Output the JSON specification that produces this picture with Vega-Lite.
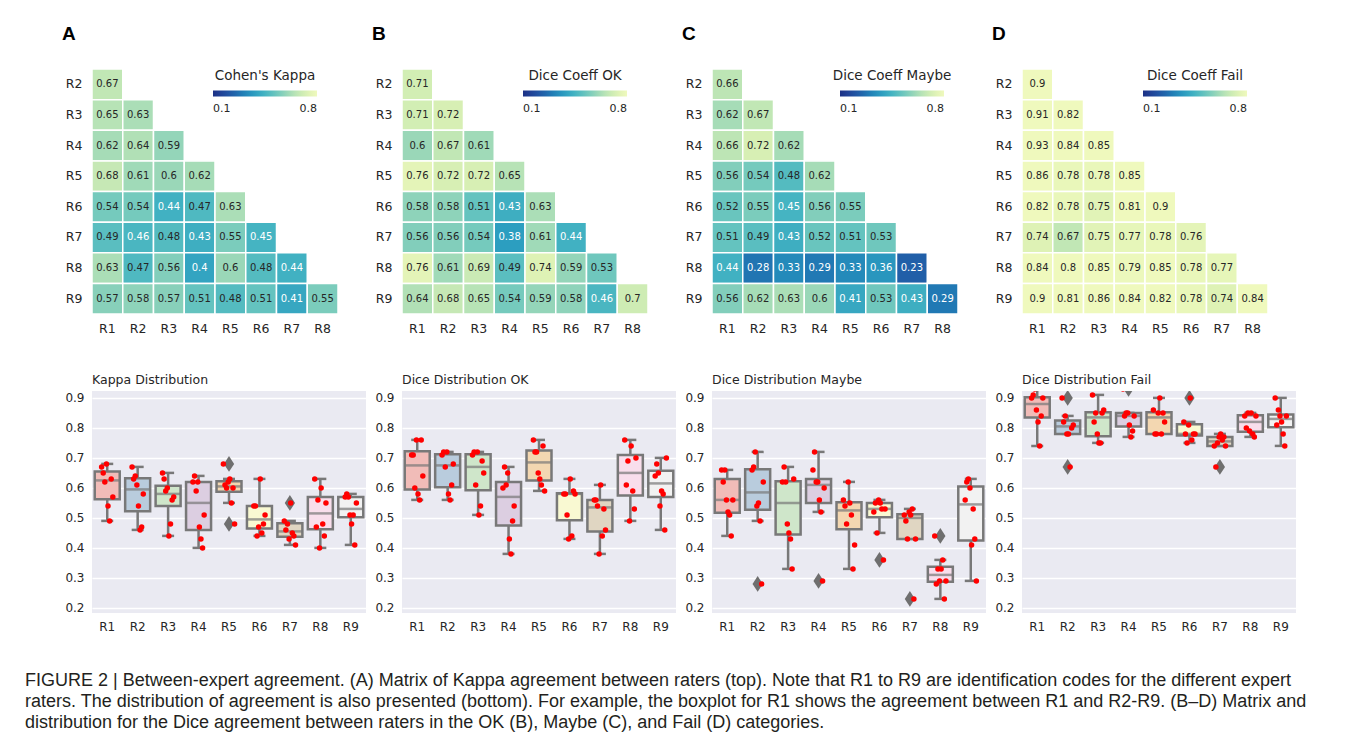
{
  "$schema": "https://vega.github.io/schema/vega-lite/v6.json",
  "background": "white",
  "padding": {"left": 25, "top": 25, "right": 5, "bottom": 5},
  "datasets": {
    "A": [
      {"r":"R2","c":"R1","v":0.67},
      {"r":"R3","c":"R1","v":0.65},{"r":"R3","c":"R2","v":0.63},
      {"r":"R4","c":"R1","v":0.62},{"r":"R4","c":"R2","v":0.64},{"r":"R4","c":"R3","v":0.59},
      {"r":"R5","c":"R1","v":0.68},{"r":"R5","c":"R2","v":0.61},{"r":"R5","c":"R3","v":0.6},{"r":"R5","c":"R4","v":0.62},
      {"r":"R6","c":"R1","v":0.54},{"r":"R6","c":"R2","v":0.54},{"r":"R6","c":"R3","v":0.44},{"r":"R6","c":"R4","v":0.47},{"r":"R6","c":"R5","v":0.63},
      {"r":"R7","c":"R1","v":0.49},{"r":"R7","c":"R2","v":0.46},{"r":"R7","c":"R3","v":0.48},{"r":"R7","c":"R4","v":0.43},{"r":"R7","c":"R5","v":0.55},{"r":"R7","c":"R6","v":0.45},
      {"r":"R8","c":"R1","v":0.63},{"r":"R8","c":"R2","v":0.47},{"r":"R8","c":"R3","v":0.56},{"r":"R8","c":"R4","v":0.4},{"r":"R8","c":"R5","v":0.6},{"r":"R8","c":"R6","v":0.48},{"r":"R8","c":"R7","v":0.44},
      {"r":"R9","c":"R1","v":0.57},{"r":"R9","c":"R2","v":0.58},{"r":"R9","c":"R3","v":0.57},{"r":"R9","c":"R4","v":0.51},{"r":"R9","c":"R5","v":0.48},{"r":"R9","c":"R6","v":0.51},{"r":"R9","c":"R7","v":0.41},{"r":"R9","c":"R8","v":0.55}
    ],
    "B": [
      {"r":"R2","c":"R1","v":0.71},
      {"r":"R3","c":"R1","v":0.71},{"r":"R3","c":"R2","v":0.72},
      {"r":"R4","c":"R1","v":0.6},{"r":"R4","c":"R2","v":0.67},{"r":"R4","c":"R3","v":0.61},
      {"r":"R5","c":"R1","v":0.76},{"r":"R5","c":"R2","v":0.72},{"r":"R5","c":"R3","v":0.72},{"r":"R5","c":"R4","v":0.65},
      {"r":"R6","c":"R1","v":0.58},{"r":"R6","c":"R2","v":0.58},{"r":"R6","c":"R3","v":0.51},{"r":"R6","c":"R4","v":0.43},{"r":"R6","c":"R5","v":0.63},
      {"r":"R7","c":"R1","v":0.56},{"r":"R7","c":"R2","v":0.56},{"r":"R7","c":"R3","v":0.54},{"r":"R7","c":"R4","v":0.38},{"r":"R7","c":"R5","v":0.61},{"r":"R7","c":"R6","v":0.44},
      {"r":"R8","c":"R1","v":0.76},{"r":"R8","c":"R2","v":0.61},{"r":"R8","c":"R3","v":0.69},{"r":"R8","c":"R4","v":0.49},{"r":"R8","c":"R5","v":0.74},{"r":"R8","c":"R6","v":0.59},{"r":"R8","c":"R7","v":0.53},
      {"r":"R9","c":"R1","v":0.64},{"r":"R9","c":"R2","v":0.68},{"r":"R9","c":"R3","v":0.65},{"r":"R9","c":"R4","v":0.54},{"r":"R9","c":"R5","v":0.59},{"r":"R9","c":"R6","v":0.58},{"r":"R9","c":"R7","v":0.46},{"r":"R9","c":"R8","v":0.7}
    ],
    "C": [
      {"r":"R2","c":"R1","v":0.66},
      {"r":"R3","c":"R1","v":0.62},{"r":"R3","c":"R2","v":0.67},
      {"r":"R4","c":"R1","v":0.66},{"r":"R4","c":"R2","v":0.72},{"r":"R4","c":"R3","v":0.62},
      {"r":"R5","c":"R1","v":0.56},{"r":"R5","c":"R2","v":0.54},{"r":"R5","c":"R3","v":0.48},{"r":"R5","c":"R4","v":0.62},
      {"r":"R6","c":"R1","v":0.52},{"r":"R6","c":"R2","v":0.55},{"r":"R6","c":"R3","v":0.45},{"r":"R6","c":"R4","v":0.56},{"r":"R6","c":"R5","v":0.55},
      {"r":"R7","c":"R1","v":0.51},{"r":"R7","c":"R2","v":0.49},{"r":"R7","c":"R3","v":0.43},{"r":"R7","c":"R4","v":0.52},{"r":"R7","c":"R5","v":0.51},{"r":"R7","c":"R6","v":0.53},
      {"r":"R8","c":"R1","v":0.44},{"r":"R8","c":"R2","v":0.28},{"r":"R8","c":"R3","v":0.33},{"r":"R8","c":"R4","v":0.29},{"r":"R8","c":"R5","v":0.33},{"r":"R8","c":"R6","v":0.36},{"r":"R8","c":"R7","v":0.23},
      {"r":"R9","c":"R1","v":0.56},{"r":"R9","c":"R2","v":0.62},{"r":"R9","c":"R3","v":0.63},{"r":"R9","c":"R4","v":0.6},{"r":"R9","c":"R5","v":0.41},{"r":"R9","c":"R6","v":0.53},{"r":"R9","c":"R7","v":0.43},{"r":"R9","c":"R8","v":0.29}
    ],
    "D": [
      {"r":"R2","c":"R1","v":0.9},
      {"r":"R3","c":"R1","v":0.91},{"r":"R3","c":"R2","v":0.82},
      {"r":"R4","c":"R1","v":0.93},{"r":"R4","c":"R2","v":0.84},{"r":"R4","c":"R3","v":0.85},
      {"r":"R5","c":"R1","v":0.86},{"r":"R5","c":"R2","v":0.78},{"r":"R5","c":"R3","v":0.78},{"r":"R5","c":"R4","v":0.85},
      {"r":"R6","c":"R1","v":0.82},{"r":"R6","c":"R2","v":0.78},{"r":"R6","c":"R3","v":0.75},{"r":"R6","c":"R4","v":0.81},{"r":"R6","c":"R5","v":0.9},
      {"r":"R7","c":"R1","v":0.74},{"r":"R7","c":"R2","v":0.67},{"r":"R7","c":"R3","v":0.75},{"r":"R7","c":"R4","v":0.77},{"r":"R7","c":"R5","v":0.78},{"r":"R7","c":"R6","v":0.76},
      {"r":"R8","c":"R1","v":0.84},{"r":"R8","c":"R2","v":0.8},{"r":"R8","c":"R3","v":0.85},{"r":"R8","c":"R4","v":0.79},{"r":"R8","c":"R5","v":0.85},{"r":"R8","c":"R6","v":0.78},{"r":"R8","c":"R7","v":0.77},
      {"r":"R9","c":"R1","v":0.9},{"r":"R9","c":"R2","v":0.81},{"r":"R9","c":"R3","v":0.86},{"r":"R9","c":"R4","v":0.84},{"r":"R9","c":"R5","v":0.82},{"r":"R9","c":"R6","v":0.78},{"r":"R9","c":"R7","v":0.74},{"r":"R9","c":"R8","v":0.84}
    ]
  },
  "title": {
    "text": [
      "FIGURE 2 | Between-expert agreement. (A) Matrix of Kappa agreement between raters (top). Note that R1 to R9 are identification codes for the different expert",
      "raters. The distribution of agreement is also presented (bottom). For example, the boxplot for R1 shows the agreement between R1 and R2-R9. (B–D) Matrix and",
      "distribution for the Dice agreement between raters in the OK (B), Maybe (C), and Fail (D) categories."
    ],
    "orient": "bottom", "anchor": "start", "frame": "bounds",
    "font": "Liberation Sans", "fontSize": 18, "fontWeight": "normal", "color": "#231f20",
    "lineHeight": 21, "offset": 40, "dx": -37
  },
  "spacing": 6,
  "resolve": {"scale": {"color": "independent", "x": "independent", "y": "independent", "xOffset": "independent"}, "legend": {"color": "independent"}},
  "hconcat": [
    {
      "spacing": 38,
      "resolve": {"scale": {"color": "independent", "x": "independent", "y": "independent", "xOffset": "independent"}, "legend": {"color": "independent"}},
      "vconcat": [
        {
          "width": 246, "height": 245,
          "data": {"name": "A"},
          "title": {"text": "A", "anchor": "start", "frame": "bounds", "fontSize": 19, "fontWeight": "bold", "font": "Liberation Sans", "offset": 24, "color": "black"},
          "encoding": {
            "x": {"field": "c", "type": "nominal", "title": null, "axis": {"labelAngle": 0, "labelPadding": 8, "labelFontSize": 12.5}},
            "y": {"field": "r", "type": "nominal", "title": null, "axis": {"labelPadding": 10, "labelFontSize": 12.5, "minExtent": 30, "maxExtent": 30}}
          },
          "layer": [
            {"mark": {"type": "rect", "stroke": "white", "strokeWidth": 1.5},
             "encoding": {"color": {"field": "v", "type": "quantitative",
               "scale": {"scheme": "yellowgreenblue", "reverse": true, "domain": [0.1, 0.8], "clamp": true},
               "legend": {"orient": "none", "legendX": 121, "legendY": 0, "direction": "horizontal", "gradientLength": 104, "gradientThickness": 6, "gradientStrokeWidth": 0,
                 "title": "Cohen's Kappa", "titleFontSize": 13.5, "titleFontWeight": "normal", "titleFont": "DejaVu Sans", "titleColor": "#262626", "titleAnchor": "middle", "titlePadding": 8,
                 "values": [0.1, 0.8], "labelFontSize": 11, "labelColor": "#262626", "labelFont": "DejaVu Sans", "labelOffset": 6, "labelAlign": "center"}}}},
            {"mark": {"type": "text", "fontSize": 10, "font": "DejaVu Sans"},
             "encoding": {"text": {"field": "v", "type": "quantitative"},
               "color": {"condition": {"test": "datum.v < 0.465", "value": "white"}, "value": "#262626"}}}
          ]
        },
        {
          "width": 274, "height": 222,
          "data": {"name": "A"},
          "transform": [{"fold": ["r", "c"], "as": ["role", "rater"]}, {"window": [{"op": "row_number", "as": "k"}], "groupby": ["rater"]}],
          "title": {"text": "Kappa Distribution", "anchor": "start", "frame": "group", "fontSize": 12.5, "fontWeight": "normal", "font": "DejaVu Sans", "color": "#262626", "offset": 5},
          "view": {"fill": "#EAEAF2", "stroke": null},
          "encoding": {
            "x": {"field": "rater", "type": "nominal", "title": null, "scale": {"paddingInner": 0, "paddingOuter": 0}, "axis": {"labelAngle": 0, "labelPadding": 8, "labelFontSize": 12}},
            "y": {"field": "v", "type": "quantitative", "title": null, "scale": {"domain": [0.183, 0.923], "nice": false, "zero": false},
              "axis": {"values": [0.2, 0.3, 0.4, 0.5, 0.6, 0.7, 0.8, 0.9], "format": ".1f", "grid": true, "gridColor": "white", "gridWidth": 1.5, "labelPadding": 8, "minExtent": 30, "maxExtent": 30, "labelFontSize": 12}}
          },
          "layer": [
            {"mark": {"type": "boxplot", "extent": 1.5, "size": 25, "clip": true,
               "box": {"stroke": "#787878", "strokeWidth": 2.5, "clip": true},
               "median": {"color": "#787878", "thickness": 2.5, "clip": true},
               "rule": {"color": "#787878", "strokeWidth": 2.5, "clip": true},
               "ticks": {"color": "#787878", "size": 12, "thickness": 2.5, "clip": true},
               "outliers": false},
             "encoding": {"color": {"field": "rater", "type": "nominal", "legend": null,
               "scale": {"domain": ["R1","R2","R3","R4","R5","R6","R7","R8","R9"], "range": ["#f1bcb8","#b9ccdd","#cfe6ca","#dccee1","#f3d7b1","#f9f9d2","#e0d6c2","#f9deec","#f2f2f2"]}}}},
            {"mark": {"type": "boxplot", "extent": 1.5, "size": 25, "clip": true, "box": false, "median": false, "rule": false, "ticks": false,
               "outliers": {"shape": "M0,-1L0.65,0L0,1L-0.65,0Z", "filled": true, "color": "#6f6f6f", "size": 250, "opacity": 1, "clip": true}}},
            {"mark": {"type": "point", "filled": true, "color": "#ff0000", "size": 30, "opacity": 1, "clip": true},
             "encoding": {"xOffset": {"field": "k", "type": "quantitative", "scale": {"domain": [-5, 14]}}}}
          ]
        }
      ]
    },
    {
      "spacing": 38,
      "resolve": {"scale": {"color": "independent", "x": "independent", "y": "independent", "xOffset": "independent"}, "legend": {"color": "independent"}},
      "vconcat": [
        {
          "width": 246, "height": 245,
          "data": {"name": "B"},
          "title": {"text": "B", "anchor": "start", "frame": "bounds", "fontSize": 19, "fontWeight": "bold", "font": "Liberation Sans", "offset": 24, "color": "black"},
          "encoding": {
            "x": {"field": "c", "type": "nominal", "title": null, "axis": {"labelAngle": 0, "labelPadding": 8, "labelFontSize": 12.5}},
            "y": {"field": "r", "type": "nominal", "title": null, "axis": {"labelPadding": 10, "labelFontSize": 12.5, "minExtent": 30, "maxExtent": 30}}
          },
          "layer": [
            {"mark": {"type": "rect", "stroke": "white", "strokeWidth": 1.5},
             "encoding": {"color": {"field": "v", "type": "quantitative",
               "scale": {"scheme": "yellowgreenblue", "reverse": true, "domain": [0.1, 0.8], "clamp": true},
               "legend": {"orient": "none", "legendX": 121, "legendY": 0, "direction": "horizontal", "gradientLength": 104, "gradientThickness": 6, "gradientStrokeWidth": 0,
                 "title": "Dice Coeff OK", "titleFontSize": 13.5, "titleFontWeight": "normal", "titleFont": "DejaVu Sans", "titleColor": "#262626", "titleAnchor": "middle", "titlePadding": 8,
                 "values": [0.1, 0.8], "labelFontSize": 11, "labelColor": "#262626", "labelFont": "DejaVu Sans", "labelOffset": 6, "labelAlign": "center"}}}},
            {"mark": {"type": "text", "fontSize": 10, "font": "DejaVu Sans"},
             "encoding": {"text": {"field": "v", "type": "quantitative"},
               "color": {"condition": {"test": "datum.v < 0.465", "value": "white"}, "value": "#262626"}}}
          ]
        },
        {
          "width": 274, "height": 222,
          "data": {"name": "B"},
          "transform": [{"fold": ["r", "c"], "as": ["role", "rater"]}, {"window": [{"op": "row_number", "as": "k"}], "groupby": ["rater"]}],
          "title": {"text": "Dice Distribution OK", "anchor": "start", "frame": "group", "fontSize": 12.5, "fontWeight": "normal", "font": "DejaVu Sans", "color": "#262626", "offset": 5},
          "view": {"fill": "#EAEAF2", "stroke": null},
          "encoding": {
            "x": {"field": "rater", "type": "nominal", "title": null, "scale": {"paddingInner": 0, "paddingOuter": 0}, "axis": {"labelAngle": 0, "labelPadding": 8, "labelFontSize": 12}},
            "y": {"field": "v", "type": "quantitative", "title": null, "scale": {"domain": [0.183, 0.923], "nice": false, "zero": false},
              "axis": {"values": [0.2, 0.3, 0.4, 0.5, 0.6, 0.7, 0.8, 0.9], "format": ".1f", "grid": true, "gridColor": "white", "gridWidth": 1.5, "labelPadding": 8, "minExtent": 30, "maxExtent": 30, "labelFontSize": 12}}
          },
          "layer": [
            {"mark": {"type": "boxplot", "extent": 1.5, "size": 25, "clip": true,
               "box": {"stroke": "#787878", "strokeWidth": 2.5, "clip": true},
               "median": {"color": "#787878", "thickness": 2.5, "clip": true},
               "rule": {"color": "#787878", "strokeWidth": 2.5, "clip": true},
               "ticks": {"color": "#787878", "size": 12, "thickness": 2.5, "clip": true},
               "outliers": false},
             "encoding": {"color": {"field": "rater", "type": "nominal", "legend": null,
               "scale": {"domain": ["R1","R2","R3","R4","R5","R6","R7","R8","R9"], "range": ["#f1bcb8","#b9ccdd","#cfe6ca","#dccee1","#f3d7b1","#f9f9d2","#e0d6c2","#f9deec","#f2f2f2"]}}}},
            {"mark": {"type": "boxplot", "extent": 1.5, "size": 25, "clip": true, "box": false, "median": false, "rule": false, "ticks": false,
               "outliers": {"shape": "M0,-1L0.65,0L0,1L-0.65,0Z", "filled": true, "color": "#6f6f6f", "size": 250, "opacity": 1, "clip": true}}},
            {"mark": {"type": "point", "filled": true, "color": "#ff0000", "size": 30, "opacity": 1, "clip": true},
             "encoding": {"xOffset": {"field": "k", "type": "quantitative", "scale": {"domain": [-5, 14]}}}}
          ]
        }
      ]
    },
    {
      "spacing": 38,
      "resolve": {"scale": {"color": "independent", "x": "independent", "y": "independent", "xOffset": "independent"}, "legend": {"color": "independent"}},
      "vconcat": [
        {
          "width": 246, "height": 245,
          "data": {"name": "C"},
          "title": {"text": "C", "anchor": "start", "frame": "bounds", "fontSize": 19, "fontWeight": "bold", "font": "Liberation Sans", "offset": 24, "color": "black"},
          "encoding": {
            "x": {"field": "c", "type": "nominal", "title": null, "axis": {"labelAngle": 0, "labelPadding": 8, "labelFontSize": 12.5}},
            "y": {"field": "r", "type": "nominal", "title": null, "axis": {"labelPadding": 10, "labelFontSize": 12.5, "minExtent": 30, "maxExtent": 30}}
          },
          "layer": [
            {"mark": {"type": "rect", "stroke": "white", "strokeWidth": 1.5},
             "encoding": {"color": {"field": "v", "type": "quantitative",
               "scale": {"scheme": "yellowgreenblue", "reverse": true, "domain": [0.1, 0.8], "clamp": true},
               "legend": {"orient": "none", "legendX": 121, "legendY": 0, "direction": "horizontal", "gradientLength": 104, "gradientThickness": 6, "gradientStrokeWidth": 0,
                 "title": "Dice Coeff Maybe", "titleFontSize": 13.5, "titleFontWeight": "normal", "titleFont": "DejaVu Sans", "titleColor": "#262626", "titleAnchor": "middle", "titlePadding": 8,
                 "values": [0.1, 0.8], "labelFontSize": 11, "labelColor": "#262626", "labelFont": "DejaVu Sans", "labelOffset": 6, "labelAlign": "center"}}}},
            {"mark": {"type": "text", "fontSize": 10, "font": "DejaVu Sans"},
             "encoding": {"text": {"field": "v", "type": "quantitative"},
               "color": {"condition": {"test": "datum.v < 0.465", "value": "white"}, "value": "#262626"}}}
          ]
        },
        {
          "width": 274, "height": 222,
          "data": {"name": "C"},
          "transform": [{"fold": ["r", "c"], "as": ["role", "rater"]}, {"window": [{"op": "row_number", "as": "k"}], "groupby": ["rater"]}],
          "title": {"text": "Dice Distribution Maybe", "anchor": "start", "frame": "group", "fontSize": 12.5, "fontWeight": "normal", "font": "DejaVu Sans", "color": "#262626", "offset": 5},
          "view": {"fill": "#EAEAF2", "stroke": null},
          "encoding": {
            "x": {"field": "rater", "type": "nominal", "title": null, "scale": {"paddingInner": 0, "paddingOuter": 0}, "axis": {"labelAngle": 0, "labelPadding": 8, "labelFontSize": 12}},
            "y": {"field": "v", "type": "quantitative", "title": null, "scale": {"domain": [0.183, 0.923], "nice": false, "zero": false},
              "axis": {"values": [0.2, 0.3, 0.4, 0.5, 0.6, 0.7, 0.8, 0.9], "format": ".1f", "grid": true, "gridColor": "white", "gridWidth": 1.5, "labelPadding": 8, "minExtent": 30, "maxExtent": 30, "labelFontSize": 12}}
          },
          "layer": [
            {"mark": {"type": "boxplot", "extent": 1.5, "size": 25, "clip": true,
               "box": {"stroke": "#787878", "strokeWidth": 2.5, "clip": true},
               "median": {"color": "#787878", "thickness": 2.5, "clip": true},
               "rule": {"color": "#787878", "strokeWidth": 2.5, "clip": true},
               "ticks": {"color": "#787878", "size": 12, "thickness": 2.5, "clip": true},
               "outliers": false},
             "encoding": {"color": {"field": "rater", "type": "nominal", "legend": null,
               "scale": {"domain": ["R1","R2","R3","R4","R5","R6","R7","R8","R9"], "range": ["#f1bcb8","#b9ccdd","#cfe6ca","#dccee1","#f3d7b1","#f9f9d2","#e0d6c2","#f9deec","#f2f2f2"]}}}},
            {"mark": {"type": "boxplot", "extent": 1.5, "size": 25, "clip": true, "box": false, "median": false, "rule": false, "ticks": false,
               "outliers": {"shape": "M0,-1L0.65,0L0,1L-0.65,0Z", "filled": true, "color": "#6f6f6f", "size": 250, "opacity": 1, "clip": true}}},
            {"mark": {"type": "point", "filled": true, "color": "#ff0000", "size": 30, "opacity": 1, "clip": true},
             "encoding": {"xOffset": {"field": "k", "type": "quantitative", "scale": {"domain": [-5, 14]}}}}
          ]
        }
      ]
    },
    {
      "spacing": 38,
      "resolve": {"scale": {"color": "independent", "x": "independent", "y": "independent", "xOffset": "independent"}, "legend": {"color": "independent"}},
      "vconcat": [
        {
          "width": 246, "height": 245,
          "data": {"name": "D"},
          "title": {"text": "D", "anchor": "start", "frame": "bounds", "fontSize": 19, "fontWeight": "bold", "font": "Liberation Sans", "offset": 24, "color": "black"},
          "encoding": {
            "x": {"field": "c", "type": "nominal", "title": null, "axis": {"labelAngle": 0, "labelPadding": 8, "labelFontSize": 12.5}},
            "y": {"field": "r", "type": "nominal", "title": null, "axis": {"labelPadding": 10, "labelFontSize": 12.5, "minExtent": 30, "maxExtent": 30}}
          },
          "layer": [
            {"mark": {"type": "rect", "stroke": "white", "strokeWidth": 1.5},
             "encoding": {"color": {"field": "v", "type": "quantitative",
               "scale": {"scheme": "yellowgreenblue", "reverse": true, "domain": [0.1, 0.8], "clamp": true},
               "legend": {"orient": "none", "legendX": 121, "legendY": 0, "direction": "horizontal", "gradientLength": 104, "gradientThickness": 6, "gradientStrokeWidth": 0,
                 "title": "Dice Coeff Fail", "titleFontSize": 13.5, "titleFontWeight": "normal", "titleFont": "DejaVu Sans", "titleColor": "#262626", "titleAnchor": "middle", "titlePadding": 8,
                 "values": [0.1, 0.8], "labelFontSize": 11, "labelColor": "#262626", "labelFont": "DejaVu Sans", "labelOffset": 6, "labelAlign": "center"}}}},
            {"mark": {"type": "text", "fontSize": 10, "font": "DejaVu Sans"},
             "encoding": {"text": {"field": "v", "type": "quantitative"},
               "color": {"condition": {"test": "datum.v < 0.465", "value": "white"}, "value": "#262626"}}}
          ]
        },
        {
          "width": 274, "height": 222,
          "data": {"name": "D"},
          "transform": [{"fold": ["r", "c"], "as": ["role", "rater"]}, {"window": [{"op": "row_number", "as": "k"}], "groupby": ["rater"]}],
          "title": {"text": "Dice Distribution Fail", "anchor": "start", "frame": "group", "fontSize": 12.5, "fontWeight": "normal", "font": "DejaVu Sans", "color": "#262626", "offset": 5},
          "view": {"fill": "#EAEAF2", "stroke": null},
          "encoding": {
            "x": {"field": "rater", "type": "nominal", "title": null, "scale": {"paddingInner": 0, "paddingOuter": 0}, "axis": {"labelAngle": 0, "labelPadding": 8, "labelFontSize": 12}},
            "y": {"field": "v", "type": "quantitative", "title": null, "scale": {"domain": [0.183, 0.923], "nice": false, "zero": false},
              "axis": {"values": [0.2, 0.3, 0.4, 0.5, 0.6, 0.7, 0.8, 0.9], "format": ".1f", "grid": true, "gridColor": "white", "gridWidth": 1.5, "labelPadding": 8, "minExtent": 30, "maxExtent": 30, "labelFontSize": 12}}
          },
          "layer": [
            {"mark": {"type": "boxplot", "extent": 1.5, "size": 25, "clip": true,
               "box": {"stroke": "#787878", "strokeWidth": 2.5, "clip": true},
               "median": {"color": "#787878", "thickness": 2.5, "clip": true},
               "rule": {"color": "#787878", "strokeWidth": 2.5, "clip": true},
               "ticks": {"color": "#787878", "size": 12, "thickness": 2.5, "clip": true},
               "outliers": false},
             "encoding": {"color": {"field": "rater", "type": "nominal", "legend": null,
               "scale": {"domain": ["R1","R2","R3","R4","R5","R6","R7","R8","R9"], "range": ["#f1bcb8","#b9ccdd","#cfe6ca","#dccee1","#f3d7b1","#f9f9d2","#e0d6c2","#f9deec","#f2f2f2"]}}}},
            {"mark": {"type": "boxplot", "extent": 1.5, "size": 25, "clip": true, "box": false, "median": false, "rule": false, "ticks": false,
               "outliers": {"shape": "M0,-1L0.65,0L0,1L-0.65,0Z", "filled": true, "color": "#6f6f6f", "size": 250, "opacity": 1, "clip": true}}},
            {"mark": {"type": "point", "filled": true, "color": "#ff0000", "size": 30, "opacity": 1, "clip": true},
             "encoding": {"xOffset": {"field": "k", "type": "quantitative", "scale": {"domain": [-5, 14]}}}}
          ]
        }
      ]
    }
  ],
  "config": {
    "font": "DejaVu Sans",
    "view": {"stroke": null},
    "axis": {"domain": false, "ticks": false, "grid": false, "labelColor": "#262626", "labelFont": "DejaVu Sans"}
  }
}
